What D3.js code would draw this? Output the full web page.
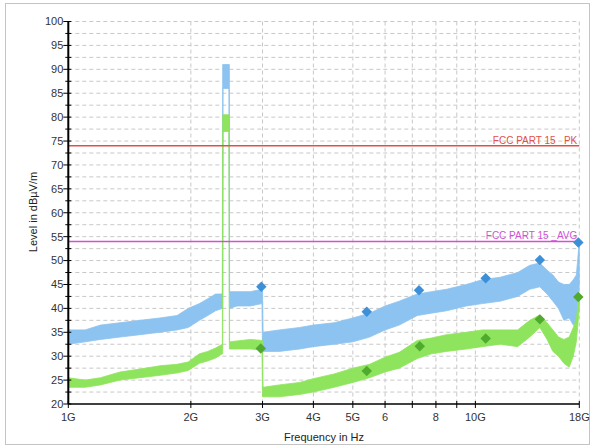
<!DOCTYPE html>
<html>
<head>
<meta charset="utf-8">
<script src="https://cdn.jsdelivr.net/npm/d3@7"></script>
<style>
  body { margin: 0; background: #fff; }
  svg { font-family: "Liberation Sans", Arial, sans-serif; }
</style>
</head>
<body>
<svg width="598" height="447"></svg>
<script>
// frequency knots in GHz, shared by both traces
const freqs = [1.0, 1.1, 1.2, 1.34, 1.5, 1.68, 1.85, 1.97, 2.1, 2.2, 2.3, 2.39, 2.395, 2.40, 2.48, 2.487, 2.49, 2.6, 2.8, 2.99, 3.0, 3.01, 3.3, 3.7, 4.0, 4.5, 5.0, 5.5, 6.0, 6.5, 7.2, 7.8, 8.5, 9.5, 10.4, 11.5, 12.7, 13.6, 14.4, 15.0, 15.5, 16.0, 16.5, 17.0, 17.4, 17.7, 18.0];

// peak trace, lower and upper edge of the noise band (dBµV/m)
const peakLo = [32.5, 33, 33.5, 34, 34.5, 35, 35.5, 36, 37.5, 38.5, 39.5, 40, 40, 86, 86, 40, 40, 40.5, 40.5, 41, 31, 31, 31, 31.5, 32, 32.5, 33, 34, 35.5, 36.5, 38.5, 39, 39.5, 40.5, 41, 41.5, 42.5, 44, 44.5, 43, 41.5, 40, 37.5, 38, 36.5, 37, 45];
const peakHi = [35.5, 35.5, 36.5, 37, 37.5, 38, 38.5, 40, 41, 42, 43, 43, 91, 91, 91, 91, 43.5, 43.5, 43.5, 44, 44, 35, 35.5, 36, 36.5, 37, 38, 39, 40.5, 41.5, 43, 43.5, 44, 45, 46, 46.5, 47.5, 49, 49.5, 48, 47, 45.5, 45, 45, 46, 47, 54];

// average trace
const avgLo = [23.5, 23.5, 24, 25, 25.5, 26, 26.5, 27, 28.5, 29, 29.6, 30.5, 30.5, 77, 77, 31.5, 31.5, 31.5, 31.5, 31.3, 21.5, 21.5, 21.5, 22, 22.5, 23.5, 24.5, 25.5, 26.7, 27.5, 29.5, 30.5, 31, 31.5, 32, 32.5, 32, 34, 36, 33.5, 31, 30, 28.5, 27.7, 30, 33, 40];
const avgHi = [25.5, 25, 25.5, 26.7, 27.3, 28, 28.3, 28.8, 30.5, 31, 31.7, 32.5, 80.5, 80.5, 80.5, 80.5, 33, 33.2, 33.5, 33.3, 33.3, 23.5, 24, 24.5, 25.3, 26.3, 27.5, 28.3, 29.8, 30.8, 33.3, 33.8, 34.5, 35, 35.5, 35.5, 35.5, 37.5, 38.6, 37, 35.5, 34, 33.5, 34, 36, 38, 43];

// final measurement markers
const peakMarkF = [2.98, 5.41, 7.27, 10.6, 14.4, 17.9];
const peakMarkV = [44.5, 39.3, 43.8, 46.3, 50.1, 53.8];
const avgMarkF = [2.97, 5.41, 7.3, 10.6, 14.4, 17.9];
const avgMarkV = [31.6, 26.9, 32.1, 33.7, 37.7, 42.4];

// limit lines
const limitNames = ["FCC PART 15 _PK", "FCC PART 15 _AVG"];
const limitValues = [74, 54];
const limitColors = ["#e0504a", "#d24fd6"];

const xTicks = [1, 2, 3, 4, 5, 6, 7, 8, 9, 10, 18];
const xTickLabels = { 1: "1G", 2: "2G", 3: "3G", 4: "4G", 5: "5G", 6: "6", 8: "8", 10: "10G", 18: "18G" };

const svg = d3.select("svg");

// outer frame
svg.append("rect")
  .attr("x", 5.5).attr("y", 3.5)
  .attr("width", 584).attr("height", 441)
  .attr("fill", "none")
  .attr("stroke", "#c4c4c4");

const x = d3.scaleLog().domain([1, 18]).range([68.3, 579.3]);
const y = d3.scaleLinear().domain([20, 100]).range([404, 21.5]);

const yTicks = d3.range(20, 100.1, 2.5);

// grid
svg.append("g")
  .selectAll("line")
  .data(yTicks.filter((d) => d > 20))
  .join("line")
  .attr("x1", x(1)).attr("x2", x(18))
  .attr("y1", (d) => y(d)).attr("y2", (d) => y(d))
  .attr("stroke", "#c8c8c8")
  .attr("stroke-dasharray", "4,3");

svg.append("g")
  .selectAll("line")
  .data(xTicks.filter((d) => d > 1))
  .join("line")
  .attr("x1", (d) => x(d)).attr("x2", (d) => x(d))
  .attr("y1", y(100)).attr("y2", y(20))
  .attr("stroke", "#c8c8c8")
  .attr("stroke-dasharray", "4,3");

// traces as noise bands
const band = (lo, hi) =>
  d3.area()
    .x((d, i) => x(freqs[i]))
    .y0((d, i) => y(lo[i]))
    .y1((d, i) => y(hi[i]));

svg.append("path")
  .attr("d", band(peakLo, peakHi)(freqs))
  .attr("fill", "#8cc3f0")
  .attr("stroke", "#8cc3f0")
  .attr("stroke-width", 0.8);

svg.append("path")
  .attr("d", band(avgLo, avgHi)(freqs))
  .attr("fill", "#8ee45c")
  .attr("stroke", "#8ee45c")
  .attr("stroke-width", 0.8);

// limit lines + labels
limitValues.forEach((v, i) => {
  svg.append("line")
    .attr("x1", x(1)).attr("x2", x(18))
    .attr("y1", y(v)).attr("y2", y(v))
    .attr("stroke", limitColors[i])
    .attr("stroke-width", 1.6);
  svg.append("text")
    .attr("x", x(18) - 2)
    .attr("y", y(v) - 2)
    .attr("text-anchor", "end")
    .attr("font-size", 10)
    .attr("fill", limitColors[i])
    .text(limitNames[i]);
});

// markers
const diamond = d3.symbol().type(d3.symbolDiamond2).size(70);
svg.append("g")
  .selectAll("path")
  .data(peakMarkF)
  .join("path")
  .attr("d", diamond)
  .attr("transform", (d, i) => `translate(${x(d)},${y(peakMarkV[i])}) rotate(0)`)
  .attr("fill", "#3d8fd8");

svg.append("g")
  .selectAll("path")
  .data(avgMarkF)
  .join("path")
  .attr("d", diamond)
  .attr("transform", (d, i) => `translate(${x(d)},${y(avgMarkV[i])})`)
  .attr("fill", "#4faa2e");

// y axis
const yAxis = svg.append("g");
yAxis.append("line")
  .attr("x1", x(1)).attr("x2", x(1))
  .attr("y1", y(100)).attr("y2", y(20))
  .attr("stroke", "#000").attr("stroke-width", 2);
yAxis.selectAll(".tk")
  .data(yTicks)
  .join("line")
  .attr("x1", (d) => x(1) - (d % 5 === 0 ? 5 : 3))
  .attr("x2", x(1) + 3)
  .attr("y1", (d) => y(d)).attr("y2", (d) => y(d))
  .attr("stroke", "#000");
yAxis.selectAll("text")
  .data(yTicks.filter((d) => d % 5 === 0))
  .join("text")
  .attr("x", x(1) - 5)
  .attr("y", (d) => y(d))
  .attr("dy", "0.35em")
  .attr("text-anchor", "end")
  .attr("font-size", 11)
  .attr("fill", "#333")
  .text((d) => d);

// x axis
const xAxis = svg.append("g");
xAxis.append("line")
  .attr("x1", x(1)).attr("x2", x(18))
  .attr("y1", y(20)).attr("y2", y(20))
  .attr("stroke", "#000").attr("stroke-width", 1.5);
xAxis.selectAll(".tk")
  .data(xTicks)
  .join("line")
  .attr("x1", (d) => x(d)).attr("x2", (d) => x(d))
  .attr("y1", y(20) - 3).attr("y2", y(20) + 4)
  .attr("stroke", "#000");
xAxis.selectAll("text")
  .data(xTicks.filter((d) => xTickLabels[d]))
  .join("text")
  .attr("x", (d) => x(d))
  .attr("y", 421)
  .attr("text-anchor", "middle")
  .attr("font-size", 11)
  .attr("fill", "#333")
  .text((d) => xTickLabels[d]);

// axis titles
svg.append("text")
  .attr("x", 324).attr("y", 441)
  .attr("text-anchor", "middle")
  .attr("font-size", 11)
  .attr("fill", "#222")
  .text("Frequency in Hz");

svg.append("text")
  .attr("transform", "translate(37,212) rotate(-90)")
  .attr("text-anchor", "middle")
  .attr("font-size", 11)
  .attr("fill", "#222")
  .text("Level in dBµV/m");
</script>
</body>
</html>
